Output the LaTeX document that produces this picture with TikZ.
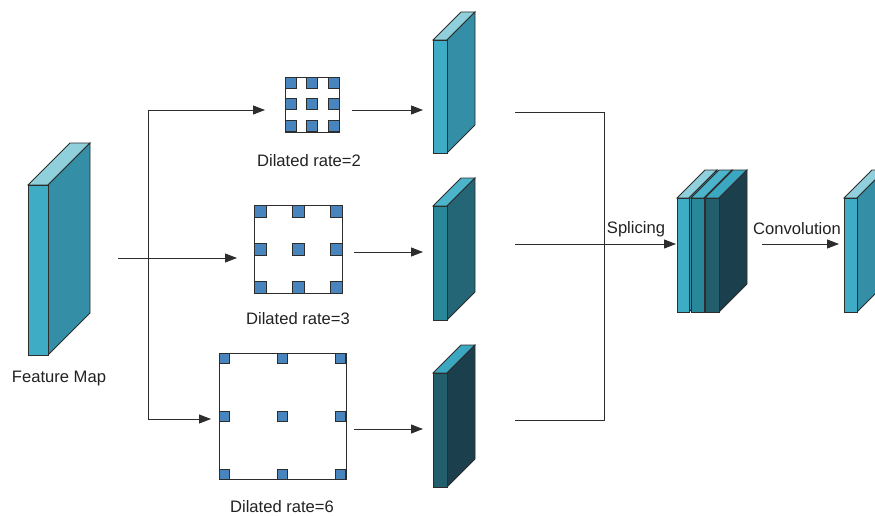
\documentclass[tikz,border=0pt]{standalone}
\usepackage{fontspec}
\setmainfont{Liberation Sans}
\usetikzlibrary{arrows.meta}

\definecolor{lineC}{RGB}{45,45,45}
\definecolor{txtC}{RGB}{34,34,34}
\definecolor{cellC}{RGB}{72,132,190}
% slab palettes: front / top / side
\definecolor{lFront}{RGB}{62,172,197}
\definecolor{lTop}{RGB}{143,208,220}
\definecolor{lSide}{RGB}{52,142,165}
\definecolor{mFront}{RGB}{40,135,152}
\definecolor{mTop}{RGB}{76,181,203}
\definecolor{mSide}{RGB}{36,102,117}
\definecolor{dFront}{RGB}{35,94,108}
\definecolor{dTop}{RGB}{60,167,192}
\definecolor{dSide}{RGB}{27,63,76}

\tikzset{
  conn/.style={draw=lineC, line width=0.9pt},
  arr/.style={conn, -{Triangle[length=12pt,width=9pt]}},
  slabedge/.style={draw=lineC, line width=0.9pt, line join=miter},
  kernelbox/.style={draw=lineC, line width=0.8pt, fill=white, inner sep=0pt, anchor=north west},
  cell/.style={draw=lineC, line width=0.8pt, fill=cellC},
  lbl/.style={text=txtC, font=\fontsize{16.6}{19}\selectfont, inner sep=0pt}
}

% x, ytop, width, height, depth, front, top, side
\newcommand\slabshape[8]{%
  \filldraw[slabedge,fill=#7] (#1,#2) -- ++(#5,-#5) -- ++(#3,0) -- ++(-#5,#5) -- cycle;
  \filldraw[slabedge,fill=#8] (#1+#3,#2) -- ++(#5,-#5) -- ++(0,#4) -- ++(-#5,#5) -- cycle;
  \filldraw[slabedge,fill=#6] (#1,#2) rectangle ++(#3,#4);
}

% x0, y0, pitch, cell size
\newcommand\kernelcells[4]{%
  \foreach \i in {0,1,2}{\foreach \j in {0,1,2}{
    \filldraw[cell] (#1+\i*#3,#2+\j*#3) rectangle ++(#4,#4);}}
}

\begin{document}
\begin{tikzpicture}[x=1pt,y=-1pt]
\useasboundingbox (0,0) rectangle (875,516);
\clip (0,0) rectangle (875,516);

% input feature map
\slabshape{28}{185}{20}{170}{42}{lFront}{lTop}{lSide}
\node[lbl] (fmlabel) at (59,379) {Feature Map};

% dilated kernels
\node[kernelbox, minimum width=54pt, minimum height=55pt] (k1) at (285,77) {};
\kernelcells{285}{77}{21.5}{11}
\node[lbl] (k1label) at (309,161) {Dilated rate=2};

\node[kernelbox, minimum width=88pt, minimum height=88pt] (k2) at (254,205) {};
\kernelcells{254}{205}{38}{12}
\node[lbl] (k2label) at (298,319) {Dilated rate=3};

\node[kernelbox, minimum width=127pt, minimum height=126pt] (k3) at (219,353) {};
\kernelcells{219}{353}{58.3}{10}
\node[lbl] (k3label) at (282,506.5) {Dilated rate=6};

% branch outputs
\slabshape{433}{40}{14}{113}{28}{lFront}{lTop}{lSide}
\slabshape{433}{206}{14}{114}{28}{mFront}{mTop}{mSide}
\slabshape{433}{373}{14}{114}{28}{dFront}{dTop}{dSide}

% concatenated stack
\slabshape{677}{198}{12}{114}{28}{lFront}{lTop}{lSide}
\slabshape{691}{198}{13}{114}{28}{mFront}{mTop}{mSide}
\slabshape{705}{198}{14}{114}{28}{dFront}{dTop}{dSide}

% result
\slabshape{844}{198}{13}{114}{28}{lFront}{lTop}{lSide}

% connector anchor points
\coordinate (fmout) at (118,258);
\coordinate (sTop) at (148,110);
\coordinate (sBot) at (148,419);
\coordinate (k1in) at (265,110);
\coordinate (k2in) at (237,258);
\coordinate (k3in) at (211,419);
\coordinate (k1out) at (352,110);
\coordinate (k2out) at (354,252);
\coordinate (k3out) at (354,429);
\coordinate (m1in) at (423,110);
\coordinate (m2in) at (423,252);
\coordinate (m3in) at (423,429);
\coordinate (m1out) at (515,112);
\coordinate (m2out) at (515,244);
\coordinate (m3out) at (515,420);
\coordinate (jTop) at (604,112);
\coordinate (jBot) at (604,420);
\coordinate (stackin) at (676,244);
\coordinate (stackout) at (762,244);
\coordinate (outin) at (839,244);

% connectors
\draw[conn] (sTop) -- (sBot);
\draw[arr] (fmout) -- (k2in);
\draw[arr] (sTop) -- (k1in);
\draw[arr] (sBot) -- (k3in);
\draw[arr] (k1out) -- (m1in);
\draw[arr] (k2out) -- (m2in);
\draw[arr] (k3out) -- (m3in);
\draw[conn] (m1out) -- (jTop) -- (jBot) -- (m3out);
\draw[arr] (m2out) -- (stackin);
\draw[arr] (stackout) -- (outin);

\node[lbl] (splice) at (636,229) {Splicing};
\node[lbl] (conv) at (797,229) {Convolution};
\end{tikzpicture}
\end{document}
